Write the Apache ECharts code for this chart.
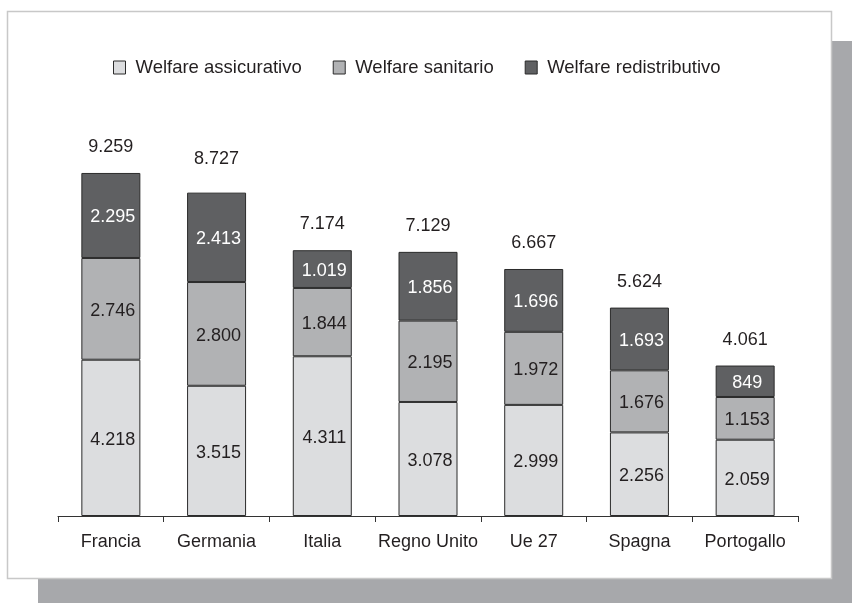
<!DOCTYPE html>
<html>
<head>
<meta charset="utf-8">
<script src="https://cdn.jsdelivr.net/npm/echarts@6/dist/echarts.min.js"></script>
<style>
    html, body { margin: 0; padding: 0; background: #fff; }
    #main { width: 852px; height: 603px; }
</style>
</head>
<body>
<div id="main"></div>
<script>
// 数据
var paesi = ['Francia', 'Germania', 'Italia', 'Regno Unito', 'Ue 27', 'Spagna', 'Portogallo'];
var assicurativo = [4218, 3515, 4311, 3078, 2999, 2256, 2059];
var sanitario = [2746, 2800, 1844, 2195, 1972, 1676, 1153];
var redistributivo = [2295, 2413, 1019, 1856, 1696, 1693, 849];
var totali = [9259, 8727, 7174, 7129, 6667, 5624, 4061];

// 数字格式：9259 -> 9.259
function fmt(v) {
    return String(v).replace(/\B(?=(\d{3})+(?!\d))/g, '.');
}

var font = 'Liberation Sans, Arial, Helvetica, sans-serif';

function serie(name, data, color, textColor) {
    return {
        name: name,
        type: 'bar',
        stack: 'tot',
        barWidth: 59,
        barGap: '-100%',
        data: data,
        itemStyle: { color: color, borderColor: '#2b2b2b', borderWidth: 1 },
        label: {
            show: true,
            position: 'inside',
            offset: [2, 2],
            color: textColor,
            fontSize: 18,
            fontFamily: font,
            formatter: function (p) { return fmt(p.value); }
        }
    };
}

// 总计标签（透明柱子）
var totData = totali.map(function (v, i) {
    if (i === 1) {
        return { value: v, label: { distance: 25 } };
    }
    return v;
});

var option = {
    animation: false,
    graphic: [
        { type: 'rect', z: 0, shape: { x: 38, y: 41, width: 814, height: 562 }, style: { fill: '#a7a8ab' } },
        { type: 'rect', z: 0, shape: { x: 7.5, y: 11.5, width: 824, height: 567 }, style: { fill: '#fff', stroke: '#c8c8c8', lineWidth: 1.5 } }
    ],
    legend: {
        data: ['Welfare assicurativo', 'Welfare sanitario', 'Welfare redistributivo'],
        left: 113,
        top: 58,
        padding: 0,
        itemWidth: 12,
        itemHeight: 13,
        itemGap: 31,
        icon: 'rect',
        itemStyle: { borderColor: '#2b2b2b', borderWidth: 1 },
        textStyle: { fontSize: 18.5, color: '#231f20', fontFamily: font, padding: [0, 0, 0, 5] }
    },
    grid: { left: 58, right: 54, top: 145.5, bottom: 87 },
    xAxis: {
        type: 'category',
        data: paesi,
        axisLine: { lineStyle: { color: '#333', width: 1 } },
        axisTick: { show: true, interval: 0, length: 6, lineStyle: { color: '#333' } },
        axisLabel: { interval: 0, fontSize: 18, color: '#231f20', fontFamily: font, margin: 17 }
    },
    yAxis: {
        type: 'value',
        min: 0,
        max: 10000,
        show: false,
        splitLine: { show: false }
    },
    series: [
        serie('Welfare assicurativo', assicurativo, '#dcdddf', '#231f20'),
        serie('Welfare sanitario', sanitario, '#b1b2b4', '#231f20'),
        serie('Welfare redistributivo', redistributivo, '#5f6062', '#ffffff'),
        {
            name: 'Totale',
            type: 'bar',
            barWidth: 59,
            barGap: '-100%',
            silent: true,
            data: totData,
            itemStyle: { color: 'rgba(0,0,0,0)' },
            label: {
                show: true,
                position: 'top',
                distance: 17,
                color: '#231f20',
                fontSize: 18,
                fontFamily: font,
                formatter: function (p) { return fmt(p.value); }
            }
        }
    ]
};

var myChart = echarts.init(document.getElementById('main'));
myChart.setOption(option);
</script>
</body>
</html>
